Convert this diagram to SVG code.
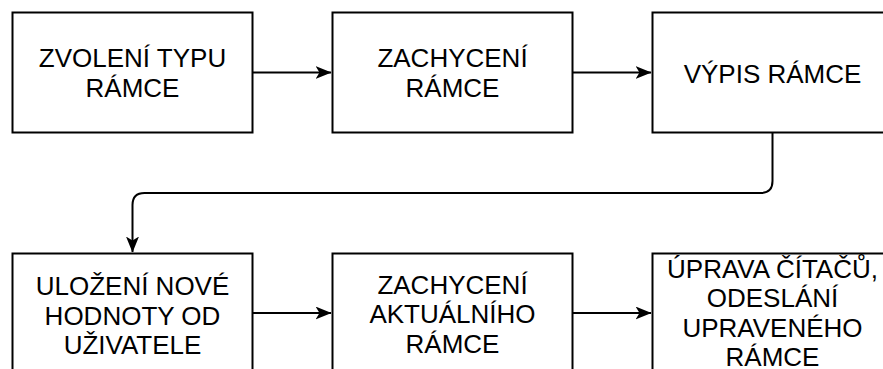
<svg xmlns="http://www.w3.org/2000/svg" width="883" height="369" viewBox="0 0 883 369">
  <style>
    .box { fill: #ffffff; stroke: #000000; stroke-width: 2; }
    .lbl { font-family: "Liberation Sans", Arial, sans-serif; font-size: 26px; fill: #000000; text-anchor: middle; }
    .edge { fill: none; stroke: #000000; stroke-width: 2; marker-end: url(#arrow); }
  </style>
  <defs>
    <marker id="arrow" viewBox="0 0 16 13" refX="15.5" refY="6.5" markerWidth="16" markerHeight="13" markerUnits="userSpaceOnUse" orient="auto">
      <path d="M0,0 L16,6.5 L0,13 L4,6.5 Z" fill="#000000"/>
    </marker>
  </defs>
  <rect width="883" height="369" fill="#ffffff"/>

  <g id="connectors">
    <path class="edge" d="M252,72.5 H331"/>
    <path class="edge" d="M572,72.5 H651"/>
    <path class="edge" d="M772.5,133 V181 Q772.5,193 760.5,193 H144.5 Q132.5,193 132.5,205 V252"/>
    <path class="edge" d="M252,313 H331"/>
    <path class="edge" d="M572,313 H651"/>
  </g>

  <g id="node-zvoleni">
    <rect class="box" x="12.5" y="12.5" width="240" height="120"/>
    <text class="lbl" x="132.5" y="67">ZVOLENÍ TYPU</text>
    <text class="lbl" x="132.5" y="97">RÁMCE</text>
  </g>

  <g id="node-zachyceni">
    <rect class="box" x="332.5" y="12.5" width="240" height="120"/>
    <text class="lbl" x="452.5" y="67">ZACHYCENÍ</text>
    <text class="lbl" x="452.5" y="97">RÁMCE</text>
  </g>

  <g id="node-vypis">
    <rect class="box" x="652.5" y="12.5" width="240" height="120"/>
    <text class="lbl" x="772.5" y="82.5">VÝPIS RÁMCE</text>
  </g>

  <g id="node-ulozeni">
    <rect class="box" x="12.5" y="253.5" width="240" height="120"/>
    <text class="lbl" x="132.5" y="295">ULOŽENÍ NOVÉ</text>
    <text class="lbl" x="132.5" y="324.5">HODNOTY OD</text>
    <text class="lbl" x="132.5" y="354">UŽIVATELE</text>
  </g>

  <g id="node-zachyceni-aktualniho">
    <rect class="box" x="332.5" y="253.5" width="240" height="120"/>
    <text class="lbl" x="452.5" y="293.5">ZACHYCENÍ</text>
    <text class="lbl" x="452.5" y="323">AKTUÁLNÍHO</text>
    <text class="lbl" x="452.5" y="352.5">RÁMCE</text>
  </g>

  <g id="node-uprava">
    <rect class="box" x="652.5" y="253.5" width="240" height="120"/>
    <text class="lbl" x="772.5" y="278">ÚPRAVA ČÍTAČŮ,</text>
    <text class="lbl" x="772.5" y="307">ODESLÁNÍ</text>
    <text class="lbl" x="772.5" y="336.5">UPRAVENÉHO</text>
    <text class="lbl" x="772.5" y="366">RÁMCE</text>
  </g>
</svg>
